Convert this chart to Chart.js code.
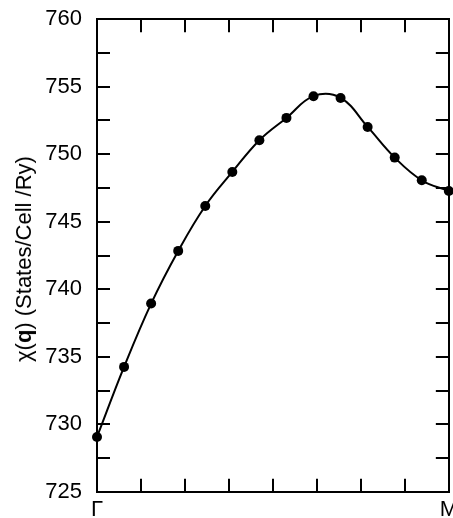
<!DOCTYPE html>
<html>
<head>
<meta charset="utf-8">
<script src="https://cdn.jsdelivr.net/npm/chart.js@4"></script>
<style>
  html, body { margin: 0; padding: 0; background: #fff; overflow: hidden; }
  #wrap { position: relative; width: 453px; height: 518px; overflow: hidden; }
  /* the canvas is moved up so the plot frame lands where the figure has it */
  #chiChart { position: absolute; left: 0; top: -22px; }
  #yTitle {
    position: absolute; left: 24px; top: 259px;
    transform: translate(-50%, -50%) rotate(-90deg);
    white-space: nowrap; font: 22px "Liberation Sans", Arial, sans-serif; color: #000;
  }
</style>
</head>
<body>
<div id="wrap">
  <canvas id="chiChart" width="476" height="555"></canvas>
  <div id="yTitle">χ(<b>q</b>) (States/Cell /Ry)</div>
</div>
<script>
'use strict';

// --- DADOS ---
const qIndex = [0, 1, 2, 3, 4, 5, 6, 7, 8, 9, 10, 11, 12, 13];
const chiValues = [729.06, 734.25, 738.94, 742.84, 746.17, 748.69, 751.04,
                   752.69, 754.30, 754.17, 752.02, 749.75, 748.07, 747.28];
const xTickLabels = ['Γ', '', '', '', '', '', '', '', 'M'];
const yMin = 725, yMax = 760, yStep = 2.5, yLabelEvery = 5;

const xMax = qIndex[qIndex.length - 1];
const xTickValues = xTickLabels.map((_, i) => i * xMax / (xTickLabels.length - 1));

const axisFont = { family: '"Liberation Sans", Arial, sans-serif', size: 22 };

// same tick positions on bottom and top axes
function xTicks(scale) {
    scale.ticks = xTickValues.map(v => ({ value: v }));
}

// ticks drawn inwards (negative length), no grid on the plot
const baseGrid = { drawOnChartArea: false, drawTicks: true, tickLength: -13, color: '#000', lineWidth: 2 };
const baseBorder = { display: true, color: '#000', width: 2 };

new Chart(document.getElementById('chiChart').getContext('2d'), {
    type: 'line',
    data: {
        datasets: [{
            data: qIndex.map((q, i) => ({ x: q, y: chiValues[i] })),
            borderColor: '#000',
            borderWidth: 2,
            backgroundColor: '#000',
            pointBackgroundColor: '#000',
            pointBorderColor: '#000',
            pointBorderWidth: 0,
            pointRadius: 5,
            tension: 0.4,
            clip: false,
            fill: false
        }]
    },
    options: {
        responsive: false,
        animation: false,
        events: [],
        plugins: { legend: { display: false }, tooltip: { enabled: false } },
        scales: {
            x: {
                type: 'linear', position: 'bottom', min: 0, max: xMax,
                afterBuildTicks: xTicks,
                afterFit: s => { s.height = 38; },
                ticks: {
                    color: '#000', font: axisFont, padding: 18, maxRotation: 0, autoSkip: false,
                    callback: (v, i) => xTickLabels[i]
                },
                grid: baseGrid, border: baseBorder
            },
            x2: {
                type: 'linear', position: 'top', min: 0, max: xMax,
                afterBuildTicks: xTicks,
                afterFit: s => { s.height = 19; },
                ticks: { callback: () => '', padding: 0 },
                grid: baseGrid, border: baseBorder
            },
            y: {
                type: 'linear', position: 'left', min: yMin, max: yMax,
                afterFit: s => { s.width = 97; },
                ticks: {
                    stepSize: yStep, color: '#000', font: axisFont, padding: 28, autoSkip: false,
                    callback: v => (v % yLabelEvery === 0 ? v : '')
                },
                grid: baseGrid, border: baseBorder
            },
            y2: {
                type: 'linear', position: 'right', min: yMin, max: yMax,
                afterFit: s => { s.width = 21; },
                ticks: { stepSize: yStep, callback: () => '', padding: 0 },
                grid: baseGrid, border: baseBorder
            }
        }
    }
});
</script>
</body>
</html>
